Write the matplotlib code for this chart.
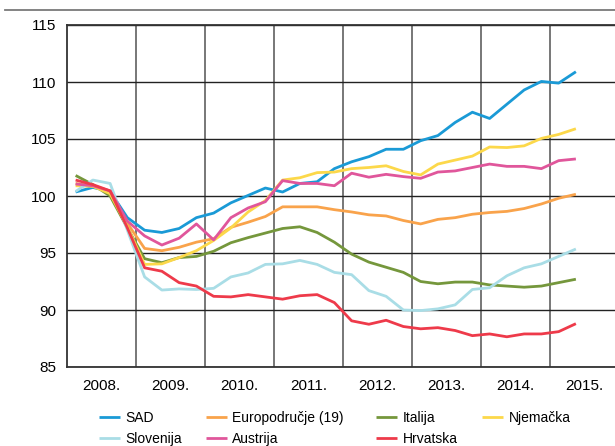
import numpy as np
import matplotlib
matplotlib.use("Agg")
import matplotlib.pyplot as plt
from matplotlib.lines import Line2D

plt.rcParams['font.family'] = ['Liberation Sans', 'DejaVu Sans']

# quarterly index, 2008 Q1 - 2015 Q2
years = [2008, 2009, 2010, 2011, 2012, 2013, 2014, 2015]
n_quarters = 30

sad = [100.35, 100.75, 100.4, 98.1, 97.0, 96.8, 97.15, 98.1, 98.5, 99.4,
       100.05, 100.7, 100.35, 101.1, 101.25, 102.4, 103.0, 103.45, 104.1, 104.1,
       104.85, 105.3, 106.45, 107.35, 106.8, 108.05, 109.3, 110.05, 109.9, 110.9]
europodrucje = [101.1, 100.85, 100.3, 97.6, 95.4, 95.2, 95.5, 95.95, 96.25, 97.25,
                97.7, 98.2, 99.05, 99.05, 99.05, 98.8, 98.6, 98.35, 98.25, 97.85,
                97.55, 97.95, 98.1, 98.4, 98.55, 98.65, 98.9, 99.3, 99.8, 100.15]
italija = [101.8, 101.0, 100.0, 97.2, 94.5, 94.15, 94.6, 94.7, 95.15, 95.9,
           96.35, 96.75, 97.15, 97.3, 96.8, 95.95, 94.9, 94.2, 93.75, 93.3,
           92.5, 92.3, 92.45, 92.45, 92.2, 92.1, 92.0, 92.1, 92.4, 92.7]
njemacka = [100.9, 100.85, 100.2, 97.3, 94.0, 94.05, 94.6, 95.2, 96.1, 97.2,
            98.6, 99.6, 101.4, 101.6, 102.05, 102.1, 102.4, 102.5, 102.65, 102.15,
            101.85, 102.8, 103.15, 103.5, 104.3, 104.25, 104.4, 105.05, 105.4, 105.9]
slovenija = [100.4, 101.4, 101.1, 97.0, 92.9, 91.75, 91.85, 91.8, 91.9, 92.9,
             93.25, 94.0, 94.05, 94.35, 94.0, 93.3, 93.1, 91.7, 91.2, 90.0,
             89.95, 90.1, 90.45, 91.8, 91.95, 93.0, 93.7, 94.05, 94.7, 95.35]
austrija = [101.05, 100.9, 100.45, 97.8, 96.5, 95.7, 96.3, 97.55, 96.15, 98.1,
            98.95, 99.5, 101.35, 101.1, 101.1, 100.9, 102.0, 101.65, 101.9, 101.7,
            101.55, 102.1, 102.2, 102.5, 102.8, 102.6, 102.6, 102.4, 103.1, 103.25]
hrvatska = [101.4, 101.0, 100.45, 97.2, 93.7, 93.4, 92.4, 92.1, 91.2, 91.15,
            91.35, 91.15, 90.95, 91.25, 91.35, 90.65, 89.05, 88.75, 89.1, 88.55,
            88.35, 88.45, 88.2, 87.75, 87.9, 87.65, 87.9, 87.9, 88.1, 88.8]

colors = {
    'SAD': '#1a9ad6',
    'Europodručje (19)': '#f9a34b',
    'Italija': '#75973c',
    'Njemačka': '#fcd84a',
    'Slovenija': '#a9dde6',
    'Austrija': '#e0569b',
    'Hrvatska': '#ee3a4a',
}
data = {
    'SAD': sad, 'Europodručje (19)': europodrucje, 'Italija': italija,
    'Njemačka': njemacka, 'Slovenija': slovenija, 'Austrija': austrija,
    'Hrvatska': hrvatska,
}
# legend columns (left edge of the handle, px)
legend_cols = [
    (99, ['SAD', 'Slovenija']),
    (206, ['Europodručje (19)', 'Austrija']),
    (376, ['Italija', 'Hrvatska']),
    (482, ['Njemačka']),
]

t = years[0] + (np.arange(n_quarters) + 0.5) / 4

fig = plt.figure(figsize=(6.15, 4.46), dpi=100)
ax = fig.add_axes([67 / 615, 1 - 367 / 446, 1 - 67 / 615, (367 - 25) / 446])

handles = {}
for k, name in enumerate(data):
    ln, = ax.plot(t, data[name], color=colors[name], lw=2.0,
                  solid_capstyle='butt', zorder=3 + k * 0.1)
    handles[name] = ln

ax.set_xlim(2008, 2008 + 548 / 69)
ax.set_ylim(85, 115)
ax.set_yticks(np.arange(85, 116, 5))
ax.set_xticks(years[1:])
ax.set_xticklabels([])
ax.set_xticks([y + 0.5 for y in years], minor=True)
ax.set_xticklabels([f'{y}.' for y in years], minor=True, fontsize=11)
ax.tick_params(axis='x', which='both', length=0)
ax.tick_params(axis='x', which='minor', pad=9)
ax.tick_params(axis='y', length=0, pad=8, labelsize=11)

ax.grid(axis='y', color='#222222', lw=1.0)
ax.grid(axis='x', which='major', color='#777777', lw=1.4)
ax.set_axisbelow(True)

for s in ['top', 'left', 'bottom']:
    ax.spines[s].set_color('#333333')
    ax.spines[s].set_linewidth(1.3)
ax.spines['right'].set_visible(False)

# rule above the chart
fig.add_artist(Line2D([5 / 615, 1.0], [1 - 9.5 / 446] * 2, color='#7a7a7a', lw=1.3,
                      transform=fig.transFigure))

for x0, names in legend_cols:
    leg = fig.legend([handles[n] for n in names], names,
                     loc='upper left', bbox_to_anchor=(x0 / 615, 1 - 411 / 446),
                     frameon=False, fontsize=10, handlelength=1.5, handletextpad=0.4,
                     labelspacing=0.5, borderpad=0, borderaxespad=0)

fig.savefig('out.png', dpi=100)
